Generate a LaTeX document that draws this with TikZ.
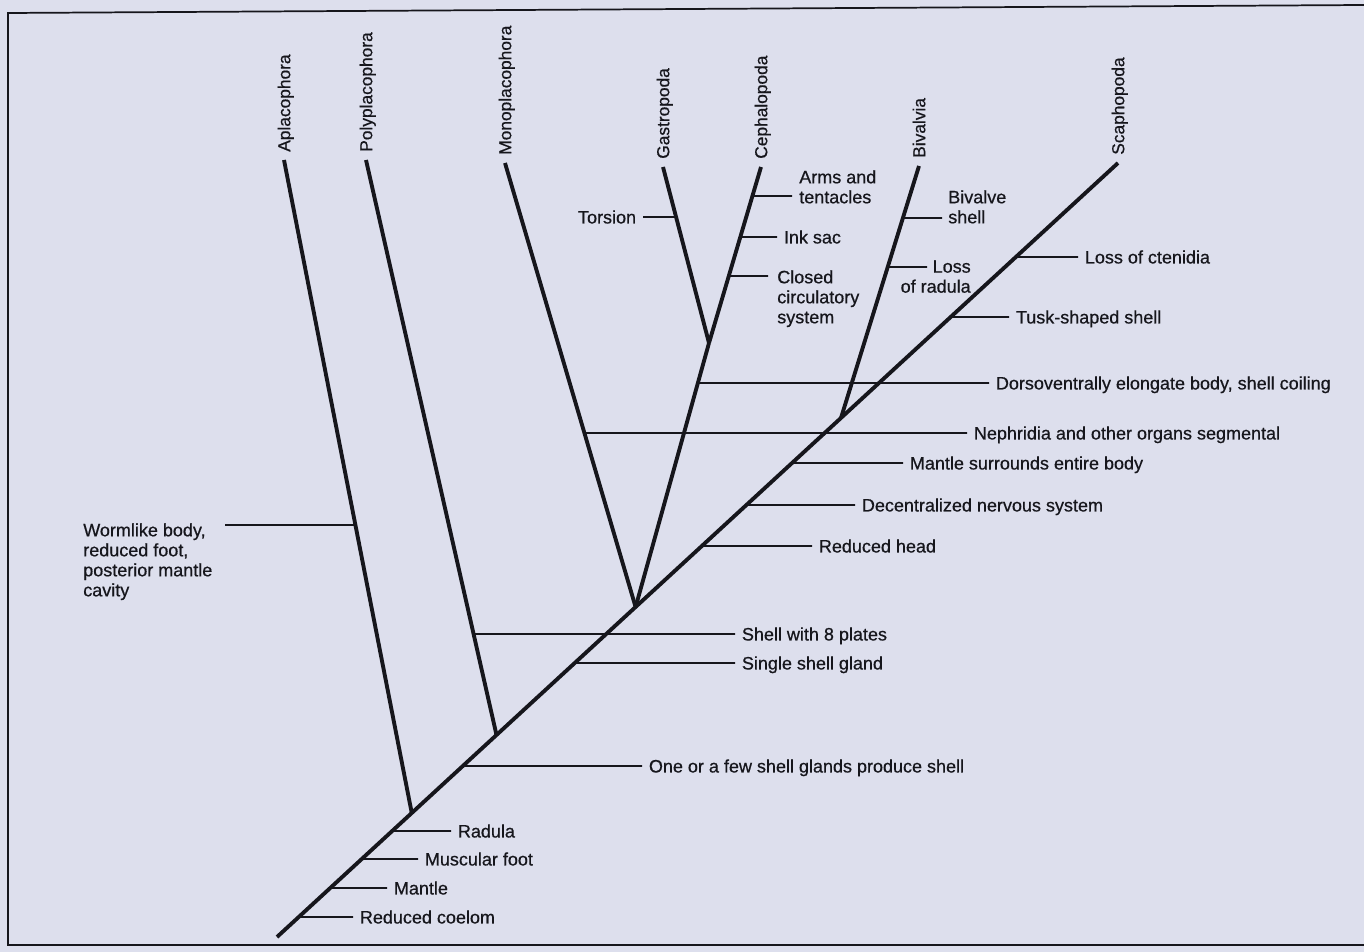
\documentclass[tikz,border=0pt]{standalone}
\usepackage{fontspec}
\setmainfont{Liberation Sans}
\newfontfamily\heavysans{Liberation Sans}[FakeBold=0.6]
\usetikzlibrary{calc}
\definecolor{paper}{RGB}{221,223,237}
\definecolor{ink}{RGB}{22,22,28}
\newcommand\atY[3]{\coordinate (#1) at (intersection of #2 and 0,#3--1,#3);}
\begin{document}
\begin{tikzpicture}[x=0.75pt,y=-0.75pt,
  branch/.style={draw=ink,line width=2.9pt},
  tick/.style={draw=ink,line width=1.3pt},
  frame/.style={draw=ink,line width=1.3pt},
  lab/.style={font=\heavysans\fontsize{13.5}{15}\selectfont,text=ink,inner xsep=5pt,inner ysep=0pt,text height=9.7pt,text depth=0pt},
  mlab/.style={font=\heavysans\fontsize{13.5}{15}\selectfont,text=ink,inner sep=0pt},
  taxon/.style={font=\heavysans\fontsize{13}{15}\selectfont,text=ink,inner sep=0pt,text height=9.3pt,text depth=0pt,rotate=90,anchor=west},
]
\fill[paper] (0,0) rectangle (1364,952);
\useasboundingbox (0,0) rectangle (1364,952);

% frame
\coordinate (fTL) at (8,13);
\coordinate (fTR) at (1364,5);
\coordinate (fBL) at (8,945);
\coordinate (fBR) at (1364,945);
\draw[frame] (fTR) -- (fTL) -- (fBL) -- (fBR);

% tree skeleton
\coordinate (root) at (277,937);
\coordinate (tScaph) at (1118,163);
\atY{nA}{root--tScaph}{813}
\atY{nP}{root--tScaph}{735}
\atY{nM}{root--tScaph}{607}
\atY{nB}{root--tScaph}{418}
\coordinate (tApla) at (284,160);
\coordinate (tPoly) at (366,160);
\coordinate (tMono) at (505,163);
\coordinate (tGast) at (663,167);
\coordinate (tCeph) at (761,167);
\coordinate (tBiva) at (919,166);
\coordinate (nGC) at (709,343);

\draw[branch] (root) -- (tScaph);
\draw[branch] (nA) -- (tApla);
\draw[branch] (nP) -- (tPoly);
\draw[branch] (nM) -- (tMono);
\draw[branch] (nM) -- (nGC);
\draw[branch] (nGC) -- (tGast);
\draw[branch] (nGC) -- (tCeph);
\draw[branch] (nB) -- (tBiva);

% taxa
\node[taxon] (lApla) at ($(tApla)+(0,-8)$) {Aplacophora};
\node[taxon] (lPoly) at ($(tPoly)+(0,-8)$) {Polyplacophora};
\node[taxon] (lMono) at ($(tMono)+(0,-8)$) {Monoplacophora};
\node[taxon] (lGast) at ($(tGast)+(0,-8)$) {Gastropoda};
\node[taxon] (lCeph) at ($(tCeph)+(0,-8)$) {Cephalopoda};
\node[taxon] (lBiva) at ($(tBiva)+(0,-8)$) {Bivalvia};
\node[taxon] (lScap) at ($(tScaph)+(0,-8)$) {Scaphopoda};

% characters on the trunk
\atY{bRC}{root--tScaph}{917}
\node[lab,anchor=west] (lRC) at (353,917) {Reduced coelom};
\draw[tick] (bRC) -- (lRC);
\atY{bMa}{root--tScaph}{888}
\node[lab,anchor=west] (lMa) at (387,888) {Mantle};
\draw[tick] (bMa) -- (lMa);
\atY{bMF}{root--tScaph}{859}
\node[lab,anchor=west] (lMF) at (418,859) {Muscular foot};
\draw[tick] (bMF) -- (lMF);
\atY{bRa}{root--tScaph}{831}
\node[lab,anchor=west] (lRa) at (451,831) {Radula};
\draw[tick] (bRa) -- (lRa);
\atY{bOF}{root--tScaph}{766}
\node[lab,anchor=west] (lOF) at (642,766) {One or a few shell glands produce shell};
\draw[tick] (bOF) -- (lOF);
\atY{bS8}{nP--tPoly}{634}
\node[lab,anchor=west] (lS8) at (735,634) {Shell with 8 plates};
\draw[tick] (bS8) -- (lS8);
\atY{bSG}{root--tScaph}{663}
\node[lab,anchor=west] (lSG) at (735,663) {Single shell gland};
\draw[tick] (bSG) -- (lSG);
\atY{bRH}{root--tScaph}{546}
\node[lab,anchor=west] (lRH) at (812,546) {Reduced head};
\draw[tick] (bRH) -- (lRH);
\atY{bDN}{root--tScaph}{505}
\node[lab,anchor=west] (lDN) at (855,505) {Decentralized nervous system};
\draw[tick] (bDN) -- (lDN);
\atY{bMS}{root--tScaph}{463}
\node[lab,anchor=west] (lMS) at (903,463) {Mantle surrounds entire body};
\draw[tick] (bMS) -- (lMS);
\atY{bNe}{nM--tMono}{433}
\node[lab,anchor=west] (lNe) at (967,433) {Nephridia and other organs segmental};
\draw[tick] (bNe) -- (lNe);
\atY{bDo}{nM--nGC}{383}
\node[lab,anchor=west] (lDo) at (989,383) {Dorsoventrally elongate body, shell coiling};
\draw[tick] (bDo) -- (lDo);
\atY{bTu}{root--tScaph}{317}
\node[lab,anchor=west] (lTu) at (1009,317) {Tusk-shaped shell};
\draw[tick] (bTu) -- (lTu);
\atY{bCt}{root--tScaph}{257}
\node[lab,anchor=west] (lCt) at (1078,257) {Loss of ctenidia};
\draw[tick] (bCt) -- (lCt);

% gastropods and cephalopods
\atY{bTo}{nGC--tGast}{217}
\node[lab,anchor=east] (lTo) at (643,217) {Torsion};
\draw[tick] (bTo) -- (lTo);
\atY{bIn}{nGC--tCeph}{237}
\node[lab,anchor=west] (lIn) at (777,237) {Ink sac};
\draw[tick] (bIn) -- (lIn);
\atY{bAr}{nGC--tCeph}{196}
\coordinate (eAr) at (792,196);
\node[mlab,anchor=north west,align=left] (lAr) at (799,170) {Arms and\\tentacles};
\draw[tick] (bAr) -- (eAr);
\atY{bCl}{nGC--tCeph}{276}
\coordinate (eCl) at (768,276);
\node[mlab,anchor=north west,align=left] (lCl) at (777,270) {Closed\\circulatory\\system};
\draw[tick] (bCl) -- (eCl);

% bivalves
\atY{bBs}{nB--tBiva}{218}
\coordinate (eBs) at (942,218);
\node[mlab,anchor=north west,align=left] (lBs) at (948,190) {Bivalve\\shell};
\draw[tick] (bBs) -- (eBs);
\atY{bLr}{nB--tBiva}{267}
\coordinate (eLr) at (927,267);
\node[mlab,anchor=north east,align=right] (lLr) at (971,260) {Loss\\of radula};
\draw[tick] (bLr) -- (eLr);

% aplacophorans
\atY{bWo}{nA--tApla}{525}
\coordinate (eWo) at (225,525);
\node[mlab,anchor=north west,align=left] (lWo) at (83,523) {Wormlike body,\\reduced foot,\\posterior mantle\\cavity};
\draw[tick] (bWo) -- (eWo);
\end{tikzpicture}
\end{document}
